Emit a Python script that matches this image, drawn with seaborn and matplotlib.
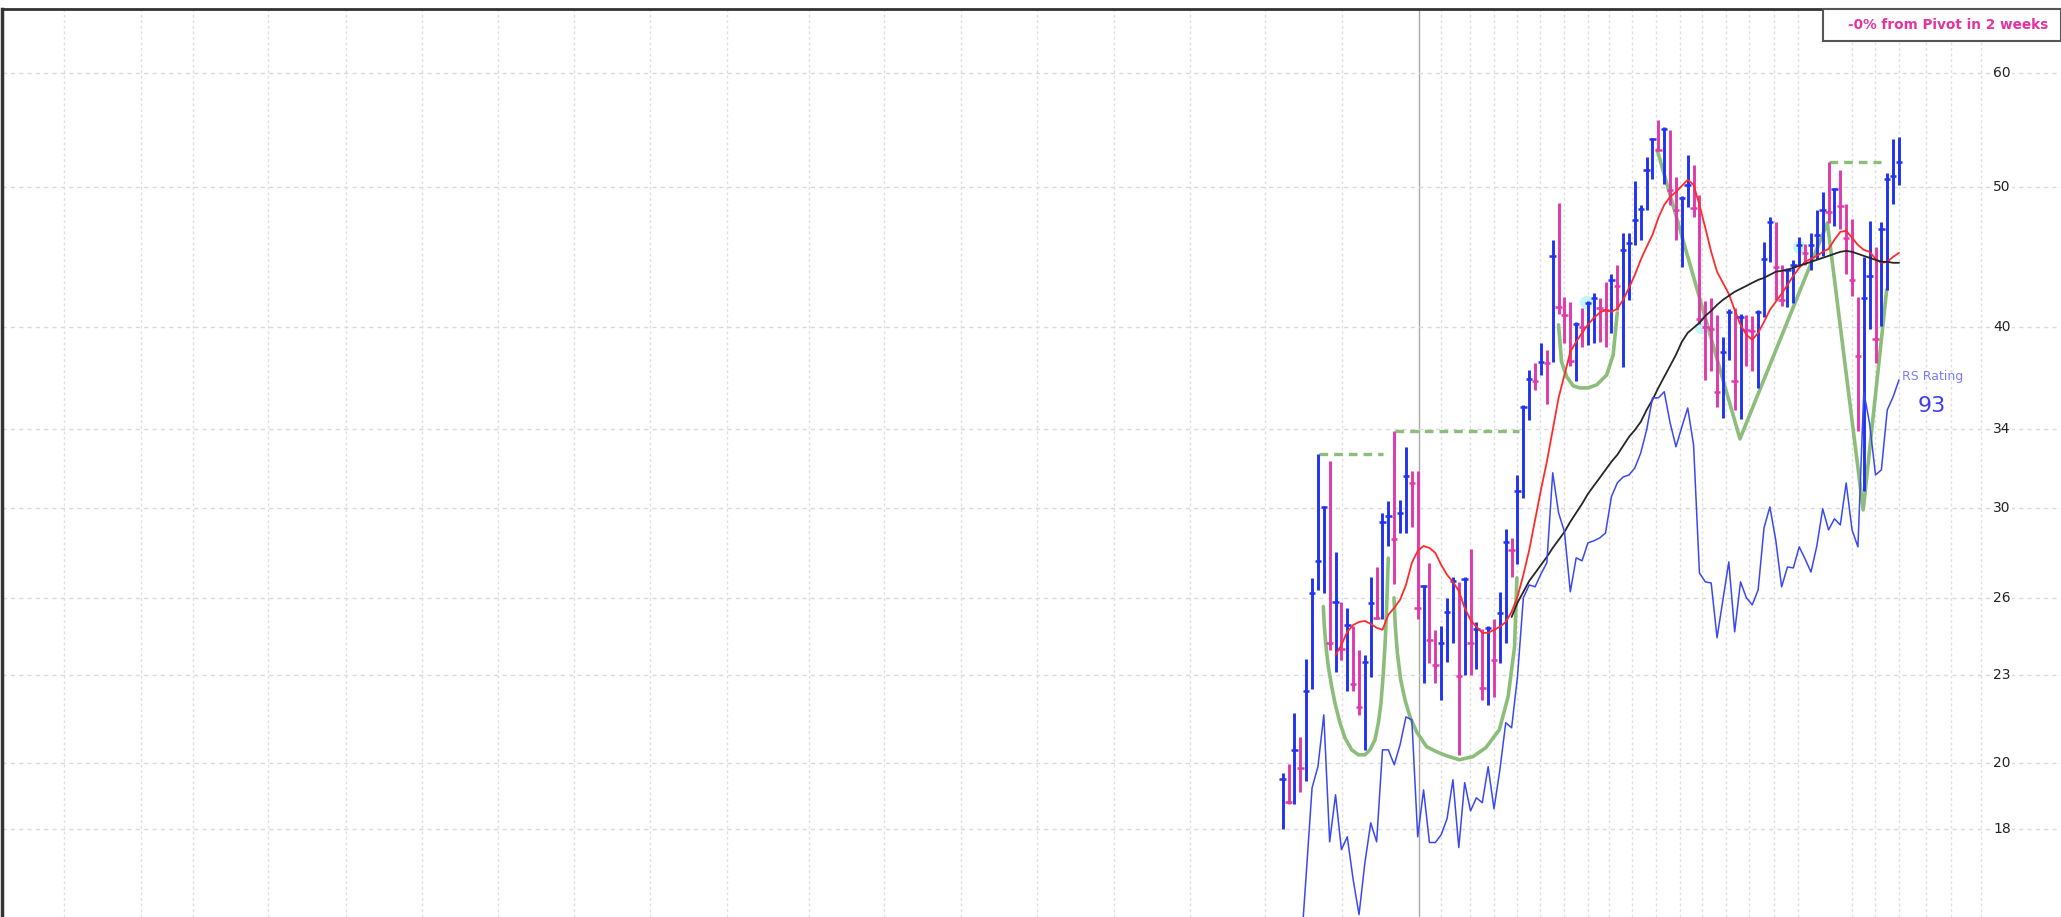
import numpy as np
import matplotlib
matplotlib.use("Agg")
import matplotlib.pyplot as plt
import matplotlib.transforms as mtransforms
from matplotlib.patches import Rectangle
from matplotlib.ticker import NullLocator
import seaborn as sns

# --- weekly price bars (oldest first) ---
highs = [19.66, 19.94, 21.66, 20.82, 23.60, 26.82, 32.71, 30.11, 32.31, 27.97,
         25.84, 25.60, 24.85, 23.93, 23.75, 26.86, 27.33, 29.78, 30.34, 33.89,
         30.39, 33.07, 31.80, 31.80, 26.52, 27.50, 24.69, 24.85, 26.01, 26.86,
         26.65, 26.86, 28.11, 25.00, 24.73, 24.85, 25.12, 26.26, 28.99, 28.62,
         31.60, 35.36, 37.35, 37.82, 39.04, 38.59, 46.00, 48.78, 42.00, 41.66,
         40.32, 41.28, 41.73, 42.27, 41.93, 42.97, 43.52, 44.21, 46.45, 46.52,
         50.46, 48.62, 52.49, 54.11, 55.61, 54.99, 54.73, 50.79, 49.33, 52.65,
         51.76, 49.41, 41.73, 41.93, 40.77, 39.36, 41.21, 41.28, 40.83, 40.77,
         40.70, 41.15, 45.85, 47.65, 47.28, 44.21, 43.94, 44.56, 46.22, 45.70,
         46.52, 48.25, 49.65, 52.08, 49.97, 51.36, 48.70, 47.50, 42.00, 44.77,
         47.35, 45.48, 47.28, 51.11, 53.95, 54.20]
lows = [17.99, 18.71, 18.71, 19.07, 19.41, 22.47, 26.31, 26.22, 23.93, 23.09,
        23.56, 22.43, 22.43, 21.56, 20.41, 22.91, 25.12, 25.12, 28.25, 26.56,
        28.85, 28.85, 29.09, 25.12, 22.69, 23.45, 22.69, 22.10, 23.49, 24.21,
        20.25, 23.01, 23.01, 23.20, 22.10, 21.93, 22.21, 23.45, 24.21, 26.86,
        27.42, 30.49, 34.49, 36.22, 37.05, 35.41, 37.88, 40.89, 39.04, 37.64,
        36.70, 38.78, 38.91, 39.04, 39.10, 38.78, 39.61, 41.15, 37.58, 41.79,
        45.62, 46.00, 48.25, 50.62, 53.06, 50.22, 48.62, 46.00, 44.00, 48.48,
        47.65, 40.19, 36.81, 37.29, 35.25, 34.60, 38.00, 35.09, 34.54, 37.64,
        37.29, 36.34, 40.64, 44.42, 41.79, 41.41, 41.34, 41.60, 44.21, 44.21,
        43.80, 44.63, 44.83, 47.20, 46.97, 46.75, 43.52, 42.07, 33.94, 30.84,
        39.87, 37.82, 40.06, 42.48, 48.70, 50.14]
closes = [19.47, 18.79, 20.41, 19.82, 22.43, 26.22, 27.55, 30.06, 24.21, 25.84,
          23.97, 24.89, 22.65, 21.86, 23.49, 25.80, 25.16, 29.32, 29.60, 28.57,
          29.74, 31.55, 31.20, 25.60, 26.48, 24.33, 23.38, 24.21, 25.44, 26.69,
          22.94, 26.78, 24.21, 24.73, 22.54, 24.77, 23.56, 25.40, 28.43, 28.06,
          30.84, 35.25, 36.87, 36.75, 37.88, 37.82, 44.83, 41.34, 40.77, 37.94,
          40.19, 40.00, 41.60, 41.93, 41.28, 41.15, 43.10, 42.69, 45.25, 45.78,
          47.43, 48.32, 51.36, 54.03, 53.06, 54.90, 49.81, 48.25, 49.16, 50.14,
          48.40, 40.51, 40.00, 39.87, 36.10, 38.47, 40.96, 36.75, 40.64, 39.81,
          39.74, 41.02, 44.63, 47.28, 44.00, 41.79, 43.80, 44.21, 45.62, 45.04,
          45.62, 46.37, 48.25, 48.10, 49.89, 48.55, 46.15, 43.10, 38.24, 41.93,
          43.38, 39.29, 46.75, 50.62, 50.87, 52.08]

# --- moving averages and relative strength line ---
ma_fast_start = 9
ma_fast = [23.74, 24.12, 24.63, 24.90, 25.02, 25.06, 24.94, 24.79, 24.71, 25.31,
           25.59, 25.92, 26.54, 27.49, 28.02, 28.24, 28.15, 27.93, 27.40, 26.97,
           26.67, 26.29, 25.59, 25.10, 24.83, 24.59, 24.59, 24.71, 24.83, 25.02,
           25.43, 26.04, 26.97, 28.06, 29.44, 30.88, 32.29, 33.97, 35.75, 37.08,
           38.47, 39.09, 39.65, 40.16, 40.61, 40.94, 41.13, 41.00, 41.20, 41.79,
           42.60, 43.49, 44.54, 45.47, 46.35, 47.62, 48.61, 49.24, 49.63, 50.11,
           50.59, 50.19, 48.61, 46.87, 45.11, 43.70, 42.94, 42.19, 41.13, 40.16,
           39.53, 39.21, 39.65, 40.35, 41.13, 41.66, 42.19, 42.80, 43.42, 43.98,
           44.40, 44.61, 44.82, 45.11, 45.32, 45.98, 46.57, 46.65, 46.13, 45.61,
           45.25, 45.11, 44.61, 44.33, 44.40, 44.75, 45.04]
ma_slow_start = 39
ma_slow = [25.22, 25.80, 26.25, 26.71, 27.05, 27.40, 27.75, 28.15, 28.51, 28.88,
           29.35, 29.77, 30.20, 30.68, 31.08, 31.47, 31.88, 32.29, 32.65, 33.12,
           33.60, 33.97, 34.41, 35.07, 35.64, 36.33, 36.97, 37.62, 38.29, 39.09,
           39.65, 39.97, 40.29, 40.74, 41.06, 41.46, 41.79, 42.06, 42.33, 42.53,
           42.73, 42.94, 43.14, 43.28, 43.49, 43.70, 43.77, 43.84, 43.98, 44.12,
           44.26, 44.40, 44.54, 44.68, 44.82, 44.97, 45.11, 45.18, 45.11, 44.97,
           44.82, 44.68, 44.54, 44.40, 44.40, 44.33, 44.33]
rs_start = 3
rs_line = [14.61, 16.73, 19.21, 19.87, 21.58, 17.63, 19.00, 17.41, 17.77, 16.60,
           15.70, 17.05, 18.17, 17.63, 20.41, 20.41, 19.93, 20.58, 21.51, 21.41,
           17.77, 19.15, 17.61, 17.61, 17.83, 18.29, 19.46, 17.47, 19.37, 18.52,
           18.91, 18.76, 19.87, 18.58, 19.77, 21.31, 21.14, 22.93, 26.00, 26.54,
           26.46, 27.01, 27.49, 31.73, 29.77, 28.88, 26.25, 27.71, 27.58, 28.38,
           28.47, 28.60, 28.83, 30.54, 31.22, 31.52, 31.62, 31.98, 32.75, 33.97,
           35.75, 35.75, 36.10, 34.36, 33.07, 34.13, 35.18, 33.17, 27.05, 26.67,
           26.62, 24.40, 25.92, 27.53, 24.63, 26.67, 26.00, 25.71, 26.33, 29.06,
           30.05, 28.51, 26.46, 27.31, 27.27, 28.20, 27.66, 27.09, 28.24, 29.96,
           28.97, 29.49, 29.20, 31.22, 28.97, 28.20, 36.10, 34.30, 31.62, 31.88,
           35.07, 35.81, 36.79]
rs_rating = "93"

# --- base patterns (week, price) ---
cup1_x = [6.92, 7.09, 7.38, 7.77, 8.34, 8.91, 9.76, 10.61, 11.75, 12.88, 14.02,
          14.87, 15.72, 16.29, 16.74, 17.14, 17.48, 17.71, 17.99]
cup1_y = [25.64, 24.84, 24.06, 23.30, 22.58, 21.98, 21.30, 20.80, 20.41, 20.25, 20.25,
          20.41, 20.74, 21.30, 21.98, 23.06, 24.32, 25.64, 27.70]
cup2_x = [18.96, 19.19, 19.53, 20.10, 20.84, 21.69, 22.82, 24.52, 26.20, 27.90,
          30.10, 32.40, 34.60, 36.90, 38.40, 39.50, 39.90]
cup2_y = [26.00, 24.83, 23.82, 22.82, 22.10, 21.51, 21.00, 20.51, 20.35, 20.22,
          20.09, 20.19, 20.48, 21.07, 22.21, 24.05, 26.84]
cup3_x = [47.0, 47.5, 48.4, 49.5, 50.6, 52.0, 53.5, 55.2, 56.3, 57.0]
cup3_y = [40.16, 37.86, 36.97, 36.44, 36.32, 36.32, 36.50, 37.08, 38.28, 40.94]
base4_x = [63.8, 77.9, 92.8, 98.9, 102.9]
base4_y = [53.06, 33.49, 47.24, 29.91, 42.46]

pivot_start = [6.1, 19.1, 93.0]
pivot_end = [17.1, 40.3, 102.0]
pivot_price = [32.71, 33.89, 52.08]

tight_x = [51.6, 71.3, 88.0]
tight_y = [41.66, 40.05, 45.48]

price_ticks = [60, 50, 40, 34, 30, 26, 23, 20, 18]
quarter_lines = [-207.6, -194.5, -185.7, -172.8, -159.6, -146.7, -133.7, -120.8,
                 -107.8, -94.7, -80.7, -67.9, -54.8, -41.8, -28.7, -15.8, -3.0, 10.1]
month_lines = [27.0, 31.9, 36.0, 39.9, 43.8, 47.9, 52.0, 55.6, 59.5, 63.6, 67.7,
               71.4, 75.5, 79.4, 83.7, 87.8, 97.0, 100.9, 105.0, 109.6, 113.8, 119.0]
year_line = 23.2
pivot_note = "-0% from Pivot in 2 weeks"

BLUE = "#2233ee"
MAGENTA = "#e03aaa"
GREEN = "#8cbd7b"

sns.set_theme(style="white")
plt.rcParams['font.family'] = ['DejaVu Sans']

fig = plt.figure(figsize=(20.61, 9.17), dpi=100)
ax = fig.add_axes([2 / 2061, 0, 1 - 2 / 2061, 1 - 9 / 917])
ax.set_yscale('log')
ax.set_xlim(-218.2, 132.6)
ax.set_ylim(15.64, 66.41)

# grid
ax.set_yticks(price_ticks)
ax.yaxis.set_minor_locator(NullLocator())
ax.tick_params(axis='y', length=0, labelleft=False, labelright=False)
ax.set_xticks([])
ax.yaxis.grid(True, color='#dadada', lw=1, ls=(0, (3, 3)), zorder=0)
for wx in quarter_lines + month_lines:
    ax.axvline(wx, color='#e0e0e0', lw=1, ls=(0, (2, 2)), zorder=0)
ax.axvline(year_line, color='#a8a8a8', lw=1, zorder=0)

# base patterns
for bx, by in [(cup1_x, cup1_y), (cup2_x, cup2_y), (cup3_x, cup3_y), (base4_x, base4_y)]:
    sns.lineplot(x=bx, y=by, ax=ax, color=GREEN, lw=2.6, sort=False,
                 estimator=None, zorder=1)
for x0, x1, p in zip(pivot_start, pivot_end, pivot_price):
    ax.plot([x0, x1], [p, p], color=GREEN, lw=2.4, ls=(0, (2.6, 1.8)), zorder=1)

ax.scatter(tight_x, tight_y, s=90, color='#b8f2f6', alpha=0.8, lw=0, zorder=2)

# price bars
weeks = np.arange(len(closes))
up = np.r_[True, np.diff(closes) >= 0]
bar_colors = np.where(up, BLUE, MAGENTA)
ax.vlines(weeks, lows, highs, colors=bar_colors, lw=2.1, zorder=3)
ax.hlines(closes, weeks - 0.55, weeks + 0.55, colors=bar_colors, lw=1.8, zorder=3)

# averages and RS line
sns.lineplot(x=np.arange(ma_fast_start, ma_fast_start + len(ma_fast)), y=ma_fast,
             ax=ax, color='#ff2b2b', lw=1.3, estimator=None, zorder=4)
sns.lineplot(x=np.arange(ma_slow_start, ma_slow_start + len(ma_slow)), y=ma_slow,
             ax=ax, color='#262626', lw=1.3, estimator=None, zorder=4)
sns.lineplot(x=np.arange(rs_start, rs_start + len(rs_line)), y=rs_line,
             ax=ax, color='#3a48f2', lw=1.1, estimator=None, zorder=4)

ax.text(105.5, 37.0, "RS Rating", color='#7a7cf4', fontsize=9, ha='left', va='center')
ax.text(110.6, 35.3, rs_rating, color='#3a3ef0', fontsize=16, ha='center', va='center')

# price labels on the right
trans = mtransforms.blended_transform_factory(ax.transAxes, ax.transData)
for v in price_ticks:
    ax.text(0.967, v, str(v), transform=trans, ha='left', va='center',
            fontsize=10, color='#222222',
            bbox=dict(facecolor='white', edgecolor='none', pad=1))

for side in ['right', 'bottom']:
    ax.spines[side].set_visible(False)
ax.spines['top'].set_color('#333333')
ax.spines['top'].set_linewidth(2)
ax.spines['left'].set_color('#333333')
ax.spines['left'].set_linewidth(2.5)

# pivot note box
fig.add_artist(Rectangle((1823 / 2061, 1 - 41 / 917), 1 - 1823 / 2061, 32 / 917,
                         transform=fig.transFigure, facecolor='white',
                         edgecolor='#555555', lw=1.5, zorder=10))
fig.text(1948 / 2061, 1 - 25 / 917, pivot_note, ha='center', va='center',
         color='#e2339f', fontsize=9.8, fontweight='bold', zorder=11)

fig.savefig('out.png', dpi=100)
